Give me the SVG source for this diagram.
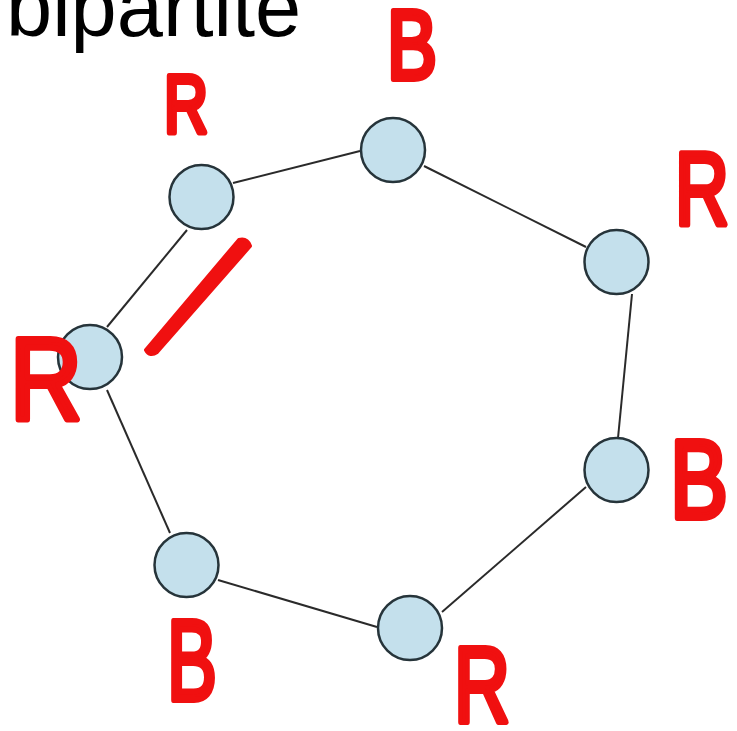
<svg xmlns="http://www.w3.org/2000/svg" width="737" height="731" viewBox="0 0 737 731">
  <style>
    .node { fill: #c4e0ec; stroke: #26343a; stroke-width: 2.5; }
    .edge { stroke: #2a2a2a; stroke-width: 2; fill: none; }
    .mark { font-family: "Liberation Sans", Arial, sans-serif; font-weight: normal; fill: #f01010; stroke: #f01010; stroke-width: 6; stroke-linejoin: round; stroke-linecap: round; }
    .title { font-family: "Liberation Sans", Arial, sans-serif; font-size: 83px; fill: #000; }
  </style>
  <rect width="737" height="731" fill="#ffffff"/>
  <text class="title" x="6" y="36">bipartite</text>

  <g id="connectors">
    <line class="edge" x1="233" y1="183" x2="360" y2="151"/>
    <line class="edge" x1="424" y1="166" x2="586" y2="247"/>
    <line class="edge" x1="632" y1="294" x2="618" y2="438"/>
    <line class="edge" x1="586" y1="487" x2="442" y2="612"/>
    <line class="edge" x1="377" y1="627" x2="218" y2="580"/>
    <line class="edge" x1="170" y1="533" x2="107" y2="390"/>
    <line class="edge" x1="107" y1="327" x2="187" y2="230"/>
  </g>

  <g id="n1"><circle class="node" cx="201.5" cy="197" r="32"/></g>
  <g id="n2"><circle class="node" cx="393" cy="150" r="32"/></g>
  <g id="n3"><circle class="node" cx="616.5" cy="262" r="32"/></g>
  <g id="n4"><circle class="node" cx="616.5" cy="470" r="32"/></g>
  <g id="n5"><circle class="node" cx="410" cy="628" r="32"/></g>
  <g id="n6"><circle class="node" cx="186.5" cy="565" r="32"/></g>
  <g id="n7"><circle class="node" cx="90" cy="357" r="32"/></g>

  <g id="annotations">
    <path d="M239 240 Q247 238 250 246 L157 352 Q150 357 146 350 Z" fill="#f01010" stroke="#f01010" stroke-width="4" stroke-linejoin="round"/>
    <text class="mark" x="164" y="132" font-size="82" textLength="44" lengthAdjust="spacingAndGlyphs">R</text>
    <text class="mark" x="387" y="79" font-size="98" textLength="50" lengthAdjust="spacingAndGlyphs">B</text>
    <text class="mark" x="675" y="225" font-size="104" textLength="54" lengthAdjust="spacingAndGlyphs">R</text>
    <text class="mark" x="670" y="518" font-size="112" textLength="58" lengthAdjust="spacingAndGlyphs">B</text>
    <text class="mark" x="167" y="700" font-size="115" textLength="50" lengthAdjust="spacingAndGlyphs">B</text>
    <text class="mark" x="454" y="722" font-size="107" textLength="56" lengthAdjust="spacingAndGlyphs">R</text>
    <text class="mark" x="10" y="419" font-size="116" textLength="72" lengthAdjust="spacingAndGlyphs">R</text>
  </g>
</svg>
